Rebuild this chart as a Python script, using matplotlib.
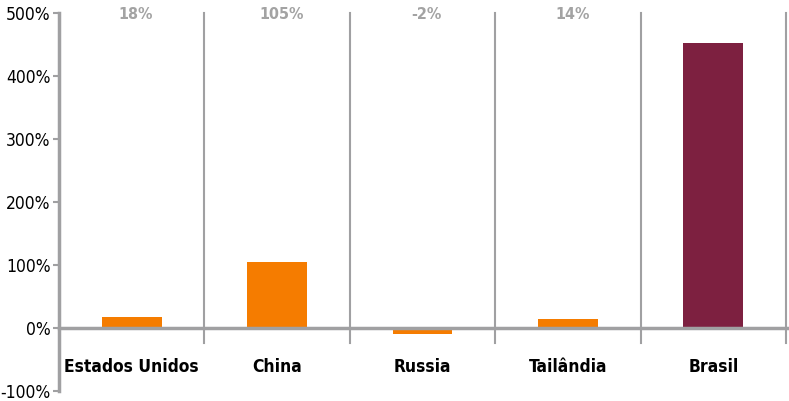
import matplotlib
matplotlib.use("Agg")
import matplotlib.pyplot as plt
from matplotlib.ticker import FuncFormatter

# data
paises = ["Estados Unidos", "China", "Russia", "Tailândia", "Brasil"]
variacao = [18, 105, -9, 14, 453]
rotulos_topo = ["18%", "105%", "-2%", "14%", ""]
cores = ["#F57C00", "#F57C00", "#F57C00", "#F57C00", "#7D2040"]
y_ticks = [-100, 0, 100, 200, 300, 400, 500]

plt.rcParams['font.family'] = ['DejaVu Sans']
plt.rcParams['font.stretch'] = 'condensed'
cinza = "#A0A0A2"

fig = plt.figure(figsize=(7.89, 4.01), dpi=100)
ax = fig.add_axes([59 / 789, 1 - 391 / 401, (786 - 59) / 789, (391 - 13) / 401])

x = list(range(len(paises)))
ax.bar(x, variacao, width=0.41, color=cores, zorder=2)

ax.set_xlim(-0.5, len(paises) - 0.5)
ax.set_ylim(-100, 500)
ax.set_yticks(y_ticks)
ax.yaxis.set_major_formatter(FuncFormatter(lambda v, p: f"{v:.0f}%"))
ax.tick_params(axis='y', length=4, width=1.5, color=cinza, labelsize=12.5, pad=2)
for t in ax.get_yticklabels():
    t.set_fontstretch('condensed')
ax.set_xticks([])

for s in ["top", "right", "bottom"]:
    ax.spines[s].set_visible(False)
ax.spines["left"].set_color(cinza)
ax.spines["left"].set_linewidth(2.5)

# zero line goes to the figure edge
ax.axhline(0, color=cinza, lw=2.5, zorder=3, xmax=1.01, clip_on=False)

# separators between categories
for i in range(1, len(paises) + 1):
    ax.plot([i - 0.5, i - 0.5], [-24, 500], color=cinza, lw=1.5, zorder=1, clip_on=False)

for i, nome in enumerate(paises):
    ax.text(i, -62, nome, ha='center', va='center', fontsize=12.5, fontweight='bold',
            fontstretch='condensed', color='black')
    if rotulos_topo[i]:
        ax.text(i + 0.03, 497, rotulos_topo[i], ha='center', va='center', fontsize=11.5,
                fontweight='bold', fontstretch='condensed', color='#A3A3A3')

fig.savefig("out.png", dpi=100)
